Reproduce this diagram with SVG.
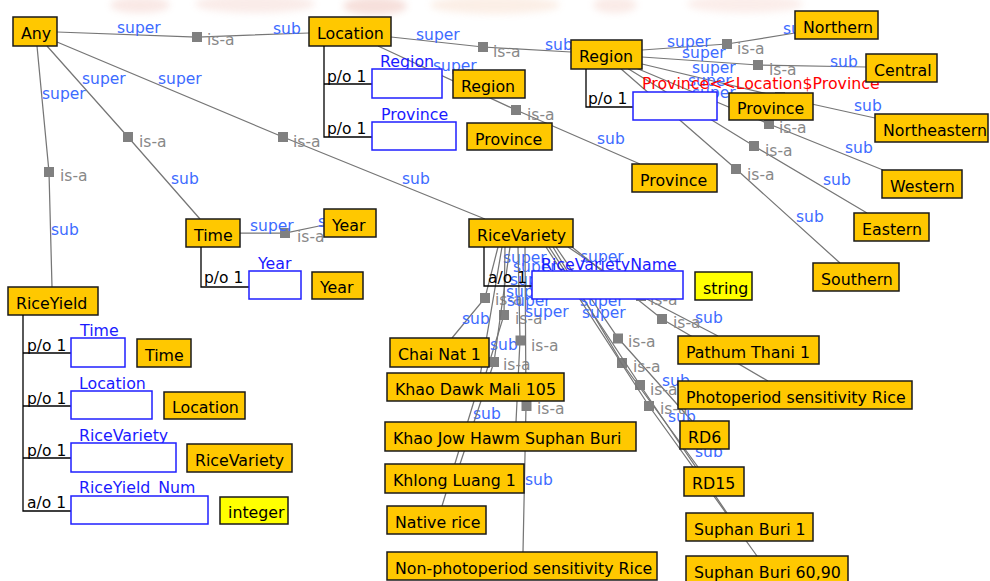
<svg xmlns="http://www.w3.org/2000/svg" xmlns:xlink="http://www.w3.org/1999/xlink" width="990" height="581" viewBox="0 0 990 581">
<defs>
<style>
text{font-family:"DejaVu Sans","Liberation Sans",sans-serif}
.ln{fill:none;stroke:#767676;stroke-width:1.25}
.sq{fill:#808080}
.sup{fill:#3d6bff;font-size:15.5px}
.isa{fill:#888888;font-size:15.5px}
.nd{fill:#ffc800;stroke:#1a1a1a;stroke-width:1.5}
.ty{fill:#ffff00;stroke:#1a1a1a;stroke-width:1.5}
.nt{fill:#000;font-size:15.8px}
.slot{fill:#fff;stroke:#1f1fff;stroke-width:1.5}
.sl{fill:#1a1aff;font-size:15.8px}
.red{fill:#ff0000;font-size:15.8px}
.po{fill:#000;font-size:15.5px}
.pl{fill:none;stroke:#000;stroke-width:1.3}
</style>
<rect id="sq" x="-5" y="-5" width="10" height="10" class="sq"/>
<filter id="soft" x="-20%" y="-50%" width="140%" height="200%"><feGaussianBlur stdDeviation="3.5"/></filter>
</defs>
<rect width="990" height="581" fill="#fff"/>

<!-- faint emblem band along the top edge -->
<g id="emblem" filter="url(#soft)" opacity="0.22">
<ellipse cx="140" cy="5" rx="30" ry="8" fill="#e59a8c"/>
<ellipse cx="255" cy="4" rx="60" ry="9" fill="#e8a79a"/>
<ellipse cx="375" cy="6" rx="32" ry="9" fill="#d9735f"/>
<ellipse cx="495" cy="5" rx="65" ry="9" fill="#f0b690"/>
<ellipse cx="615" cy="5" rx="22" ry="8" fill="#e9a594"/>
<ellipse cx="745" cy="4" rx="58" ry="9" fill="#eeb0a2"/>
</g>

<g id="connectors">
<!-- Any -> Location -->
<g><polyline class="ln" points="57,32 197,37 309,33"/><use href="#sq" x="197" y="37"/>
<text class="sup" x="117" y="33">super</text><text class="isa" x="207" y="45">is-a</text><text class="sup" x="273" y="34">sub</text></g>
<!-- Any -> RiceYield -->
<g><polyline class="ln" points="37,46 49,172 52,287"/><use href="#sq" x="49" y="172"/>
<text class="sup" x="42" y="99">super</text><text class="isa" x="60" y="181">is-a</text><text class="sup" x="51" y="235">sub</text></g>
<!-- Any -> Time -->
<g><polyline class="ln" points="47,46 128,137 200,219"/><use href="#sq" x="128" y="137"/>
<text class="sup" x="82" y="84">super</text><text class="isa" x="139" y="147">is-a</text><text class="sup" x="171" y="184">sub</text></g>
<!-- Any -> RiceVariety -->
<g><polyline class="ln" points="57,42 283,137 485,219"/><use href="#sq" x="283" y="137"/>
<text class="sup" x="158" y="84">super</text><text class="isa" x="293" y="147">is-a</text><text class="sup" x="402" y="184">sub</text></g>
<!-- Location -> Region -->
<g><polyline class="ln" points="391,37 483,47 571,52"/><use href="#sq" x="483" y="47"/>
<text class="sup" x="416" y="40">super</text><text class="isa" x="493" y="57">is-a</text><text class="sup" x="545" y="50">sub</text></g>
<!-- Location -> Province -->
<g><polyline class="ln" points="378,46 516,110 640,164"/><use href="#sq" x="516" y="110"/>
<text class="sup" x="433" y="71">super</text><text class="isa" x="527" y="120">is-a</text><text class="sup" x="597" y="144">sub</text></g>
<!-- Region -> Northern -->
<g><polyline class="ln" points="642,50 727,44 795,33"/><use href="#sq" x="727" y="44"/>
<text class="sup" x="667" y="47">super</text><text class="isa" x="737" y="54">is-a</text><text class="sup" x="783" y="34">sub</text></g>
<!-- Region -> Central -->
<g><polyline class="ln" points="642,57 758,65 866,67"/><use href="#sq" x="758" y="65"/>
<text class="sup" x="682" y="58">super</text><text class="isa" x="769" y="75">is-a</text><text class="sup" x="830" y="67">sub</text></g>
<!-- Region -> Northeastern -->
<g><polyline class="ln" points="642,64 780,97 875,118"/><use href="#sq" x="780" y="97"/>
<text class="sup" x="692" y="73">super</text><text class="sup" x="854" y="111">sub</text></g>
<!-- Region -> Western -->
<g><polyline class="ln" points="636,68 769,124 883,170"/><use href="#sq" x="769" y="124"/>
<text class="sup" x="688" y="86">super</text><text class="isa" x="779" y="133">is-a</text><text class="sup" x="845" y="153">sub</text></g>
<!-- Region -> Eastern -->
<g><polyline class="ln" points="627,68 754,146 867,213"/><use href="#sq" x="754" y="146"/>
<text class="sup" x="692" y="98">super</text><text class="isa" x="765" y="156">is-a</text><text class="sup" x="823" y="185">sub</text></g>
<!-- Region -> Southern -->
<g><polyline class="ln" points="620,68 736,169 840,263"/><use href="#sq" x="736" y="169"/>
<text class="isa" x="747" y="180">is-a</text><text class="sup" x="796" y="222">sub</text></g>
<!-- Time -> Year -->
<g><polyline class="ln" points="240,233 285,233 324,225"/><use href="#sq" x="285" y="233"/>
<text class="sup" x="250" y="231">super</text><text class="isa" x="297" y="242">is-a</text><text class="sup" x="318" y="227">sub</text></g>

<!-- RiceVariety -> kinds of rice -->
<g><polyline class="ln" points="498,247 485,298 452,338"/><use href="#sq" x="485" y="298"/>
<text class="sup" x="503" y="263">super</text><text class="isa" x="495" y="305">is-a</text><text class="sup" x="462" y="324">sub</text></g>
<g><polyline class="ln" points="505,247 504,315 486,373"/><use href="#sq" x="504" y="315"/>
<text class="sup" x="513" y="272">super</text><text class="isa" x="515" y="324">is-a</text><text class="sup" x="490" y="350">sub</text></g>
<g><polyline class="ln" points="518,247 520,340 516,422"/><use href="#sq" x="520.5" y="340.5"/>
<text class="sup" x="506" y="297">super</text><text class="isa" x="531" y="351">is-a</text><text class="sup" x="473" y="419">sub</text></g>
<g><polyline class="ln" points="510,247 494,362 460,464"/><use href="#sq" x="494" y="362"/>
<text class="sup" x="507" y="306">super</text><text class="isa" x="503" y="370">is-a</text></g>
<g><polyline class="ln" points="502,247 478,388 442,506"/><use href="#sq" x="478" y="388"/>
<text class="sup" x="510" y="285">super</text></g>
<g><polyline class="ln" points="525,247 526,406 523,552"/><use href="#sq" x="526.5" y="406"/>
<text class="sup" x="525" y="317">super</text><text class="isa" x="537" y="414">is-a</text><text class="sup" x="525" y="485">sub</text></g>
<g><polyline class="ln" points="568,247 641,296 718,336"/><use href="#sq" x="641" y="296"/>
<text class="sup" x="580" y="262">super</text><text class="isa" x="650" y="305">is-a</text><text class="sup" x="695" y="323">sub</text></g>
<g><polyline class="ln" points="572,247 662,319 768,381"/><use href="#sq" x="662" y="319"/>
<text class="isa" x="673" y="328">is-a</text><text class="sup" x="662" y="386">sub</text></g>
<g><polyline class="ln" points="556,247 618,338 692,421"/><use href="#sq" x="618" y="338.5"/>
<text class="isa" x="628" y="347">is-a</text><text class="sup" x="668" y="422">sub</text></g>
<g><polyline class="ln" points="553,247 622,363 698,467"/><use href="#sq" x="622" y="363"/>
<text class="isa" x="633" y="372">is-a</text><text class="sup" x="695" y="457">sub</text></g>
<g><polyline class="ln" points="549,247 640,385 727,513"/><use href="#sq" x="640" y="385"/>
<text class="sup" x="580" y="306">super</text><text class="isa" x="650" y="395">is-a</text></g>
<g><polyline class="ln" points="546,247 649,406 757,556"/><use href="#sq" x="649" y="406"/>
<text class="sup" x="582" y="318">super</text><text class="isa" x="660" y="414">is-a</text></g>
</g>

<!-- Any -->
<g id="any"><rect class="nd" x="13" y="17" width="44" height="29"/><text class="nt" x="21" y="39">Any</text></g>

<!-- Location with its parts -->
<g id="location">
<rect class="nd" x="309" y="17" width="82" height="29"/><text class="nt" x="317" y="39">Location</text>
<polyline class="pl" points="324,46 324,137 372,137"/><line class="pl" x1="324" y1="84" x2="372" y2="84"/>
<text class="po" x="327" y="82">p/o 1</text><text class="po" x="327" y="134">p/o 1</text>
<text class="sl" x="380" y="67">Region</text><rect class="slot" x="372" y="69" width="70" height="29"/>
<text class="sl" x="381" y="120">Province</text><rect class="slot" x="372" y="122" width="84" height="28"/>
</g>
<g id="location-region-type"><rect class="nd" x="453" y="70" width="72" height="28"/><text class="nt" x="461" y="92">Region</text></g>
<g id="location-province-type"><rect class="nd" x="467" y="123" width="85" height="27"/><text class="nt" x="475" y="145">Province</text></g>

<!-- Region with its part -->
<g id="region">
<rect class="nd" x="571" y="40" width="71" height="29"/><text class="nt" x="579" y="62">Region</text>
<polyline class="pl" points="586,69 586,107 633,107"/>
<text class="po" x="588" y="104">p/o 1</text>
<rect class="slot" x="633" y="92" width="84" height="28"/>
<text class="red" x="642" y="89">Province&lt;&lt;Location$Province</text>
</g>
<g id="region-province-type"><rect class="nd" x="729" y="93" width="84" height="27"/><text class="nt" x="737" y="114">Province</text></g>

<g id="northern"><rect class="nd" x="795" y="11" width="83" height="28"/><text class="nt" x="803" y="33">Northern</text></g>
<g id="central"><rect class="nd" x="866" y="54" width="71" height="28"/><text class="nt" x="874" y="76">Central</text></g>
<g id="northeastern"><rect class="nd" x="875" y="114" width="113" height="28"/><text class="nt" x="883" y="136">Northeastern</text></g>
<g id="western"><rect class="nd" x="882" y="170" width="80" height="28"/><text class="nt" x="890" y="192">Western</text></g>
<g id="eastern"><rect class="nd" x="854" y="213" width="75" height="28"/><text class="nt" x="862" y="235">Eastern</text></g>
<g id="southern"><rect class="nd" x="813" y="263" width="86" height="28"/><text class="nt" x="821" y="285">Southern</text></g>
<g id="province"><rect class="nd" x="632" y="164" width="85" height="28"/><text class="nt" x="640" y="186">Province</text></g>

<!-- Time with its part -->
<g id="time">
<rect class="nd" x="186" y="219" width="54" height="28"/><text class="nt" x="194" y="241">Time</text>
<polyline class="pl" points="201,247 201,287 249,287"/>
<text class="po" x="204" y="283">p/o 1</text>
<text class="sl" x="258" y="269">Year</text><rect class="slot" x="249" y="271" width="52" height="28"/>
</g>
<g id="time-year-type"><rect class="nd" x="312" y="272" width="51" height="27"/><text class="nt" x="320" y="293">Year</text></g>
<g id="year"><rect class="nd" x="324" y="209" width="52" height="28"/><text class="nt" x="332" y="231">Year</text></g>

<!-- RiceYield with its parts -->
<g id="riceyield">
<rect class="nd" x="8" y="287" width="90" height="28"/><text class="nt" x="16" y="309">RiceYield</text>
<polyline class="pl" points="23,315 23,511 71,511"/>
<line class="pl" x1="23" y1="353" x2="71" y2="353"/><line class="pl" x1="23" y1="406" x2="71" y2="406"/><line class="pl" x1="23" y1="458" x2="71" y2="458"/>
<text class="po" x="27" y="351">p/o 1</text><text class="po" x="27" y="404">p/o 1</text><text class="po" x="27" y="456">p/o 1</text><text class="po" x="27" y="508">a/o 1</text>
<text class="sl" x="80" y="336">Time</text><rect class="slot" x="71" y="338" width="54" height="29"/>
<text class="sl" x="79" y="389">Location</text><rect class="slot" x="71" y="391" width="81" height="28"/>
<text class="sl" x="79" y="441">RiceVariety</text><rect class="slot" x="71" y="443" width="105" height="29"/>
<text class="sl" x="79" y="493">RiceYield_Num</text><rect class="slot" x="71" y="496" width="137" height="28"/>
</g>
<g id="riceyield-time-type"><rect class="nd" x="137" y="339" width="54" height="28"/><text class="nt" x="145" y="361">Time</text></g>
<g id="riceyield-location-type"><rect class="nd" x="164" y="392" width="81" height="27"/><text class="nt" x="172" y="413">Location</text></g>
<g id="riceyield-ricevariety-type"><rect class="nd" x="187" y="444" width="105" height="28"/><text class="nt" x="195" y="466">RiceVariety</text></g>
<g id="integer-type"><rect class="ty" x="220" y="497" width="68" height="27"/><text class="nt" x="228" y="518">integer</text></g>

<!-- RiceVariety with its attribute -->
<g id="ricevariety">
<rect class="nd" x="469" y="219" width="104" height="28"/><text class="nt" x="477" y="241">RiceVariety</text>
<polyline class="pl" points="484,247 484,286 532,286"/>
<text class="po" x="488" y="283">a/o 1</text>
<text class="sl" x="541" y="270">RiceVarietyName</text><rect class="slot" x="532" y="271" width="151" height="28"/>
</g>
<g id="string-type"><rect class="ty" x="695" y="272" width="57" height="28"/><text class="nt" x="703" y="294">string</text></g>

<g id="chai-nat-1"><rect class="nd" x="390" y="338" width="99" height="29"/><text class="nt" x="398" y="360">Chai Nat 1</text></g>
<g id="khao-dawk-mali-105"><rect class="nd" x="387" y="373" width="177" height="28"/><text class="nt" x="395" y="395">Khao Dawk Mali 105</text></g>
<g id="khao-jow-hawm-suphan-buri"><rect class="nd" x="385" y="422" width="251" height="29"/><text class="nt" x="393" y="444">Khao Jow Hawm Suphan Buri</text></g>
<g id="khlong-luang-1"><rect class="nd" x="385" y="464" width="139" height="29"/><text class="nt" x="393" y="486">Khlong Luang 1</text></g>
<g id="native-rice"><rect class="nd" x="387" y="506" width="99" height="28"/><text class="nt" x="395" y="528">Native rice</text></g>
<g id="non-photoperiod"><rect class="nd" x="387" y="552" width="270" height="28"/><text class="nt" x="395" y="574">Non-photoperiod sensitivity Rice</text></g>
<g id="pathum-thani-1"><rect class="nd" x="678" y="336" width="141" height="28"/><text class="nt" x="686" y="358">Pathum Thani 1</text></g>
<g id="photoperiod"><rect class="nd" x="678" y="381" width="234" height="28"/><text class="nt" x="686" y="403">Photoperiod sensitivity Rice</text></g>
<g id="rd6"><rect class="nd" x="680" y="421" width="49" height="28"/><text class="nt" x="688" y="443">RD6</text></g>
<g id="rd15"><rect class="nd" x="684" y="467" width="60" height="29"/><text class="nt" x="692" y="489">RD15</text></g>
<g id="suphan-buri-1"><rect class="nd" x="686" y="513" width="127" height="28"/><text class="nt" x="694" y="535">Suphan Buri 1</text></g>
<g id="suphan-buri-60-90"><rect class="nd" x="686" y="556" width="162" height="28"/><text class="nt" x="694" y="578">Suphan Buri 60,90</text></g>
</svg>
